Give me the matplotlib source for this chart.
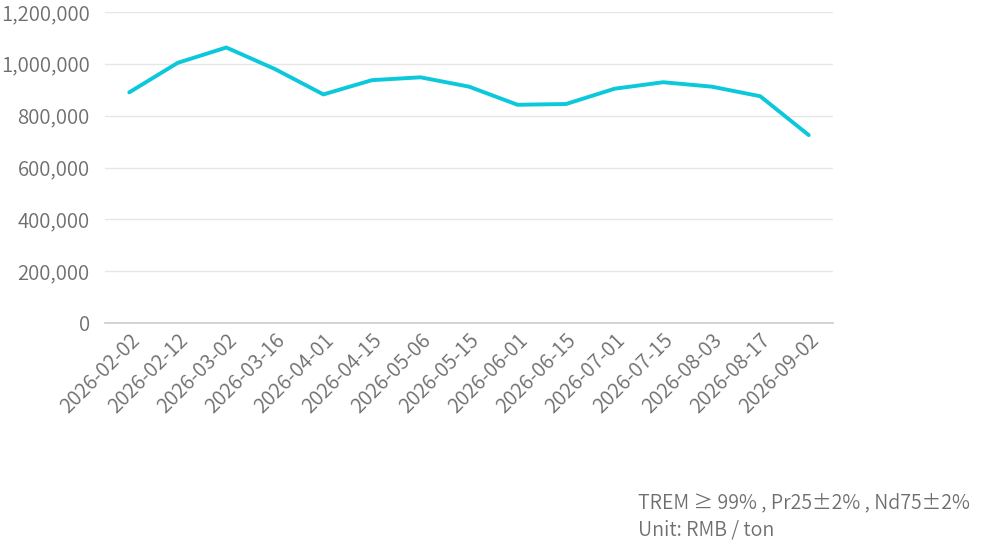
import matplotlib
matplotlib.use("Agg")
from matplotlib import pyplot as plt
from matplotlib.ticker import FuncFormatter

plt.rcParams['font.family'] = ['Noto Sans CJK JP', 'DejaVu Sans']

# Price data (RMB / ton)
dates = ['2026-02-02', '2026-02-12', '2026-03-02', '2026-03-16', '2026-04-01',
         '2026-04-15', '2026-05-06', '2026-05-15', '2026-06-01', '2026-06-15',
         '2026-07-01', '2026-07-15', '2026-08-03', '2026-08-17', '2026-09-02']
prices = [890000, 1004000, 1063000, 980000, 882000,
          937000, 948000, 912000, 842000, 845000,
          904000, 929000, 912000, 875000, 725000]
yticks = [0, 200000, 400000, 600000, 800000, 1000000, 1200000]

textcolor = '#6e6e6e'
weight = 350

fig = plt.figure(figsize=(9.88, 5.6), dpi=100)
ax = fig.add_axes([105/988, 1-323/560, (833-105)/988, (323-12)/560])

x = list(range(len(dates)))
ax.plot(x, prices, color='#0bc8db', linewidth=2.8, solid_capstyle='round', solid_joinstyle='round')

ax.set_xlim(-0.5, len(dates) - 0.5)
ax.set_ylim(0, 1200000)
ax.set_yticks(yticks)
ax.yaxis.set_major_formatter(FuncFormatter(lambda v, p: '{:,.0f}'.format(v)))
ax.set_xticks(x)
ax.set_xticklabels(dates, rotation=45, ha='right', va='top', rotation_mode='anchor',
                   fontweight=weight)
for lab in ax.get_yticklabels():
    lab.set_fontweight(weight)

ax.grid(True, axis='y', color='#e6e6e6', linewidth=1)
ax.set_axisbelow(True)
for s in ['top', 'right', 'left']:
    ax.spines[s].set_visible(False)
ax.spines['bottom'].set_color('#cccccc')
ax.spines['bottom'].set_linewidth(1.2)
ax.tick_params(axis='both', length=0, colors=textcolor, labelsize=14.7)
ax.tick_params(axis='y', pad=11)
ax.tick_params(axis='x', pad=5)

fig.text(638/988, 1-503/560, 'TREM ≥ 99% , Pr25±2% , Nd75±2%', color=textcolor,
         fontsize=14.1, va='center', ha='left', fontweight=weight)
fig.text(638/988, 1-530/560, 'Unit: RMB / ton', color=textcolor,
         fontsize=14.1, va='center', ha='left', fontweight=weight)

fig.savefig('out.png', dpi=100)
